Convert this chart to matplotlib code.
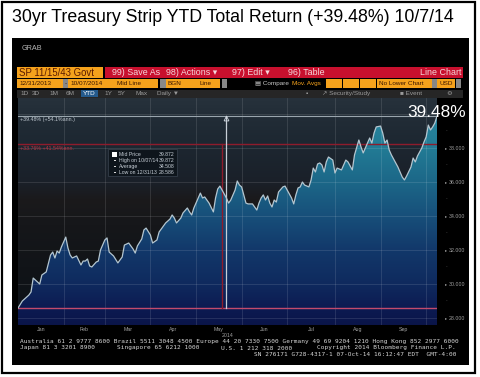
import numpy as np
import matplotlib
matplotlib.use("Agg")
import matplotlib.pyplot as plt
from matplotlib.patches import Rectangle, Polygon
from matplotlib.colors import to_rgb

# ---------------- data ----------------
start_date = "2013-12-31"
holidays = ["2014-01-01", "2014-01-20", "2014-02-17", "2014-04-18",
            "2014-05-26", "2014-07-04", "2014-09-01"]

# trading-day number since 12/31/2013 and mid price of the 30yr strip (SP 11/15/43)
trading_day = [0, 2, 5, 6, 7, 9, 10, 11, 13, 15, 16, 17, 18, 19, 20, 22, 23, 24, 25, 27,
               29, 30, 31, 32, 33, 34, 36, 37, 38, 40, 41, 42, 44, 46, 47, 48, 49, 51, 53, 54,
               55, 57, 58, 59, 61, 62, 64, 65, 67, 68, 70, 71, 72, 73, 75, 76, 78, 79, 80, 81,
               82, 84, 85, 86, 87, 88, 90, 91, 92, 93, 94, 96, 97, 98, 100, 101, 102, 103, 105, 106,
               108, 109, 110, 111, 112, 113, 114, 115, 116, 117, 118, 119, 120, 122, 123, 124, 126, 127, 128, 129,
               130, 131, 132, 134, 135, 136, 137, 138, 139, 140, 141, 142, 143, 145, 146, 147, 149, 151, 152, 154,
               155, 157, 158, 159, 161, 162, 163, 164, 165, 167, 168, 169, 170, 171, 172, 174, 175, 177, 178, 179,
               181, 182, 183, 184, 186, 187, 188, 189, 190, 191, 192, 193]
price = [28.586, 29.00, 29.35, 29.53, 30.35, 30.12, 30.00, 30.53, 30.71, 31.71, 31.88, 31.53, 31.94, 31.82, 32.18, 32.76, 32.12, 31.71, 31.53, 31.65,
         31.12, 31.35, 31.35, 31.47, 31.06, 31.00, 31.29, 31.35, 32.00, 32.59, 32.71, 31.88, 31.65, 31.24, 31.41, 31.59, 32.29, 32.41, 32.06, 31.82,
         32.24, 32.65, 33.18, 33.29, 32.88, 32.41, 32.59, 33.06, 33.41, 33.59, 33.82, 34.06, 33.88, 33.59, 33.88, 34.18, 34.47, 34.24, 34.06, 34.47,
         34.76, 35.35, 35.06, 35.12, 34.94, 34.76, 34.24, 35.06, 35.59, 35.76, 35.53, 35.06, 34.76, 34.94, 35.53, 36.06, 35.82, 35.71, 34.76, 34.71,
         34.71, 34.53, 34.35, 34.76, 35.06, 35.24, 34.94, 35.18, 34.76, 34.53, 34.94, 34.82, 35.41, 35.71, 35.76, 35.53, 35.06, 34.71, 35.24, 35.65,
         35.71, 36.00, 35.82, 35.71, 36.12, 36.82, 36.59, 37.06, 37.12, 37.00, 36.59, 37.18, 37.47, 37.29, 36.53, 36.82, 36.71, 37.29, 37.18, 36.71,
         37.59, 38.47, 38.06, 37.71, 38.29, 38.59, 38.29, 38.88, 39.24, 39.29, 38.88, 38.29, 38.47, 37.88, 37.59, 37.12, 36.88, 36.29, 36.12, 36.35,
         36.88, 37.41, 37.18, 37.53, 38.00, 38.35, 38.65, 39.35, 39.06, 39.24, 39.47, 39.872]

month_labels = ["Jan", "Feb", "Mar", "Apr", "May", "Jun", "Jul", "Aug", "Sep"]
month_first_days = ["2014-01-02", "2014-02-03", "2014-03-03", "2014-04-01", "2014-05-01",
                    "2014-06-02", "2014-07-01", "2014-08-01", "2014-09-02", "2014-10-01"]
y_ticks = [28, 30, 32, 34, 36, 38]
y_tick_labels = ["28.000", "30.000", "32.000", "34.000", "36.000", "38.000"]

mid_price = 39.872
high_price = 39.872
avg_price = 34.508
low_price = 28.586
ytd_return = "39.48%"
ref_level = 38.24
red_marker_day = 94
white_marker_day = 96

# ---------------- figure ----------------
W, H = 480, 377
fig = plt.figure(figsize=(W / 100, H / 100), dpi=100, facecolor="white")

bg = fig.add_axes([0, 0, 1, 1])
bg.set_xlim(0, W); bg.set_ylim(H, 0); bg.axis("off")

SANS = ["Liberation Sans", "DejaVu Sans"]
MONO = ["DejaVu Sans Mono", "DejaVu Sans"]


def box(ax, x0, y0, x1, y1, fc, ec="none", lw=0, z=1):
    ax.add_patch(Rectangle((x0, y0), x1 - x0, y1 - y0, fc=fc, ec=ec, lw=lw, zorder=z))


def txt(ax, x, y, s, size, color, ha="left", va="center", family=SANS, weight="normal", z=5):
    ax.text(x, y, s, fontsize=size, color=color, ha=ha, va=va, family=family,
            fontweight=weight, zorder=z)


# outer frame
box(bg, 2, 2, 475, 373, "white", ec="black", lw=1.6, z=0)
txt(bg, 12, 22, "30yr Treasury Strip YTD Total Return (+39.48%) 10/7/14", 12.75, "black", va="baseline")

# black terminal panel
box(bg, 12, 38, 469, 365, "black")
txt(bg, 22, 48, "GRAB", 5.2, "#b8b8b8")

# toolbar row 1
ORANGE = "#f5a21c"
RED = "#c8102e"
box(bg, 17, 67, 103, 78, ORANGE, z=2)
txt(bg, 19, 72.5, "SP 11/15/43 Govt", 6.9, "#5a1a00", z=3)
box(bg, 105, 67, 463, 78, RED, z=2)
for x, s in [(112, "99) Save As"), (166, "98) Actions \u25be"), (232, "97) Edit \u25be"), (288, "96) Table")]:
    txt(bg, x, 72.5, s, 6.4, "#f4d8dc", z=3)
txt(bg, 461, 72.5, "Line Chart", 6.4, "#f4d8dc", ha="right", z=3)

# toolbar row 2
row2 = [(17, 63, "12/31/2013", ORANGE), (63, 68, "-", "#888888"), (68, 115, "10/07/2014", ORANGE),
        (115, 158, "Mid Line", ORANGE), (160, 166, "", "#888888"), (166, 197, "BGN", ORANGE),
        (197, 220, "Line", ORANGE), (222, 227, "", "#888888"),
        (326, 342, "", ORANGE), (343, 359, "", ORANGE), (360, 376, "", ORANGE),
        (377, 432, "No Lower Chart", ORANGE), (432, 437, "", "#888888"),
        (437, 455, "USD", ORANGE), (456, 461, "", "#888888")]
for x0, x1, s, c in row2:
    box(bg, x0 + 0.3, 79, x1 - 0.3, 88, c, z=2)
    if s:
        ha = "center" if s in ("-",) else "left"
        txt(bg, (x0 + x1) / 2 if ha == "center" else x0 + 2, 83.5, s, 4.6, "#3a1500", ha=ha, z=3)
txt(bg, 255, 83.5, "\u25a4 Compare", 4.6, "#c8c8c8", z=3)
txt(bg, 292, 83.5, "Mov. Avgs", 4.6, ORANGE, z=3)

# toolbar row 3
box(bg, 17, 89.5, 463, 97.5, "#262626", z=2)
tabs = [(20, "1D"), (32, "3D"), (49, "1M"), (66, "6M"), (83, "YTD"), (104, "1Y"), (118, "5Y"), (135, "Max"), (157, "Daily \u25bc")]
for x, s in tabs:
    if s == "YTD":
        box(bg, x - 2, 90, x + 15, 97, "#245a8c", z=3)
        txt(bg, x, 93.5, s, 4.6, "white", z=4)
    else:
        txt(bg, x, 93.5, s, 4.6, "#9a9a9a", z=4)
txt(bg, 306, 93.5, "\u25aa", 4.6, "#9a9a9a", z=4)
txt(bg, 322, 93.5, "\u2197 Security/Study", 4.6, "#9a9a9a", z=4)
txt(bg, 400, 93.5, "\u25a0 Event", 4.6, "#9a9a9a", z=4)
txt(bg, 446, 93.5, "\u2699", 4.6, "#9a9a9a", z=4)

# ---------------- chart axes ----------------
PX_TOP, PX_BOT, PX_L, PX_R = 98, 325, 18, 437


def val_at_px(py):          # calibration: 28.000 at y=318 px, 17 px per unit
    return 28 + (318 - py) / 17.0


ylo, yhi = val_at_px(PX_BOT), val_at_px(PX_TOP)
ax = fig.add_axes([PX_L / W, 1 - PX_BOT / H, (PX_R - PX_L) / W, (PX_BOT - PX_TOP) / H])
ax.set_xlim(0, trading_day[-1])
ax.set_ylim(ylo, yhi)
ax.axis("off")

vals = np.linspace(yhi, ylo, 400)


def grad(stops, v):
    xs = [s[0] for s in stops]
    cols = np.array([to_rgb(s[1]) for s in stops])
    return np.stack([np.interp(v, xs, cols[:, k]) for k in range(3)], axis=-1)


bg_stops = [(27.5, "#0b1030"), (28.55, "#0c1022"), (28.6, "#0d1117"), (31, "#111418"),
            (33.5, "#16171a"), (35, "#1b1a1c"), (36, "#1a2029"), (38.2, "#1d2731"),
            (39.9, "#222d37"), (41, "#27323c")]
fill_stops = [(27.5, "#0a1448"), (28.6, "#0c1b52"), (30, "#0f2a5e"), (32, "#12386a"),
              (34, "#174f7a"), (36, "#1c6788"), (38, "#227b95"), (41, "#2a8ca4")]

bg_img = grad(bg_stops, vals)[:, None, :]
ax.imshow(bg_img, extent=[0, trading_day[-1], ylo, yhi], aspect="auto", zorder=0, interpolation="bilinear")

poly_xy = list(zip(trading_day, price)) + [(trading_day[-1], ylo), (trading_day[0], ylo)]
poly = Polygon(poly_xy, closed=True, fc="none", ec="none")
ax.add_patch(poly)
fill_img = grad(fill_stops, vals)[:, None, :]
im = ax.imshow(fill_img, extent=[0, trading_day[-1], ylo, yhi], aspect="auto", zorder=1, interpolation="bilinear")
im.set_clip_path(poly)

# grid
month_idx = [int(np.busday_count(start_date, d, holidays=holidays)) for d in month_first_days]
grid_x = [m - 1 for m in month_idx[1:]]
for gx in grid_x:
    ax.axvline(gx, color="white", alpha=0.13, lw=0.6, zorder=2)
for gy in y_ticks + [40]:
    ax.axhline(gy, color="white", alpha=0.13, lw=0.6, zorder=2)

# reference lines
ax.axhline(high_price, color="#9aa6ae", lw=0.8, zorder=3)
ax.axhline(ref_level, color="#8e1c2c", lw=1.0, zorder=3)
ax.axhline(low_price, color="#c24a6c", lw=1.0, zorder=3)
ax.plot([red_marker_day, red_marker_day], [low_price, ref_level], color="#8e1c2c", lw=1.0, zorder=3)
ax.plot([white_marker_day, white_marker_day], [low_price, high_price], color="#c8d0d8", lw=0.9, zorder=3)
ax.plot([white_marker_day], [high_price - 0.12], marker="^", ms=3.5, mfc="none", mec="#d0d8e0", mew=0.6, zorder=4)

# price line
ax.plot(trading_day, price, color="#b4c6d0", lw=0.9, zorder=5)

# month labels
starts = [0] + grid_x
ends = grid_x
xt = ax.get_xaxis_transform()
for i, lab in enumerate(month_labels):
    mx = (starts[i] + ends[i]) / 2
    ax.text(mx, -0.018, lab, transform=xt, fontsize=3.8, color="#a0a0a0", ha="center", va="center",
            family=SANS, clip_on=False)
ax.text((grid_x[3] + grid_x[4]) / 2 + 4, -0.045, "2014", transform=xt, fontsize=3.8, color="#a0a0a0",
        ha="center", va="center", family=SANS, clip_on=False)

# y tick labels on right
yt = ax.get_yaxis_transform()
for v, lab in zip(y_ticks, y_tick_labels):
    ax.text(1.019, v, "\u25b8", transform=yt, fontsize=3.2, color="#a0a0a0", ha="left", va="center",
            family=SANS, clip_on=False)
    ax.text(1.028, v, lab, transform=yt, fontsize=3.8, color="#a0a0a0", ha="left", va="center", family=SANS, clip_on=False)
for v in [29, 31, 33, 35, 37, 39]:
    ax.text(1.021, v, "\u00b7", transform=yt, fontsize=4, color="#808080", ha="left", va="center",
            family=SANS, clip_on=False)

# ---------------- overlay ----------------
top = fig.add_axes([0, 0, 1, 1], zorder=10)
top.set_xlim(0, W); top.set_ylim(H, 0); top.axis("off"); top.patch.set_alpha(0)

txt(top, 407, 117, ytd_return, 12.4, "white", va="baseline")
txt(top, 20, 120, "+39.48% (+54.1%ann.)", 3.8, "#c0c8d0")
txt(top, 20, 148, "+33.76% +41.54%ann.", 3.8, "#c03040")

# legend box
box(top, 108, 149, 177, 176, "#0e151c", ec="#3a4450", lw=0.5, z=2)
leg = [("Mid Price", mid_price), ("High on 10/07/14", high_price), ("Average", avg_price), ("Low on 12/31/13", low_price)]
for k, (lab, v) in enumerate(leg):
    yy = 154.5 + k * 6.0
    if k == 0:
        box(top, 112, yy - 2.2, 116.5, yy + 2.2, "white", z=3)
    else:
        box(top, 113.5, yy - 0.9, 115.5, yy + 0.9, "#d8d8d8", z=3)
    txt(top, 119, yy, lab, 3.7, "#c8d0d8", z=4)
    txt(top, 175, yy, f"{v:.3f}", 3.7, "#c8d0d8", ha="right", z=4)

# footer
FOOT = "#d8d8d8"
txt(top, 20, 342, "Australia 61 2 9777 8600 Brazil 5511 3048 4500 Europe 44 20 7330 7500 Germany 49 69 9204 1210 Hong Kong 852 2977 6000",
    4.42, FOOT, family=MONO)
txt(top, 20, 348, "Japan 81 3 3201 8900", 4.42, FOOT, family=MONO)
txt(top, 117, 348, "Singapore 65 6212 1000", 4.42, FOOT, family=MONO)
txt(top, 221, 348, "U.S. 1 212 318 2000", 4.42, FOOT, family=MONO)
txt(top, 456, 348, "Copyright 2014 Bloomberg Finance L.P.", 4.42, FOOT, ha="right", family=MONO)
txt(top, 456, 354, "SN 276171 G728-4317-1 07-Oct-14 16:12:47 EDT  GMT-4:00", 4.42, FOOT, ha="right", family=MONO)

fig.savefig("out.png", dpi=100, facecolor="white")
